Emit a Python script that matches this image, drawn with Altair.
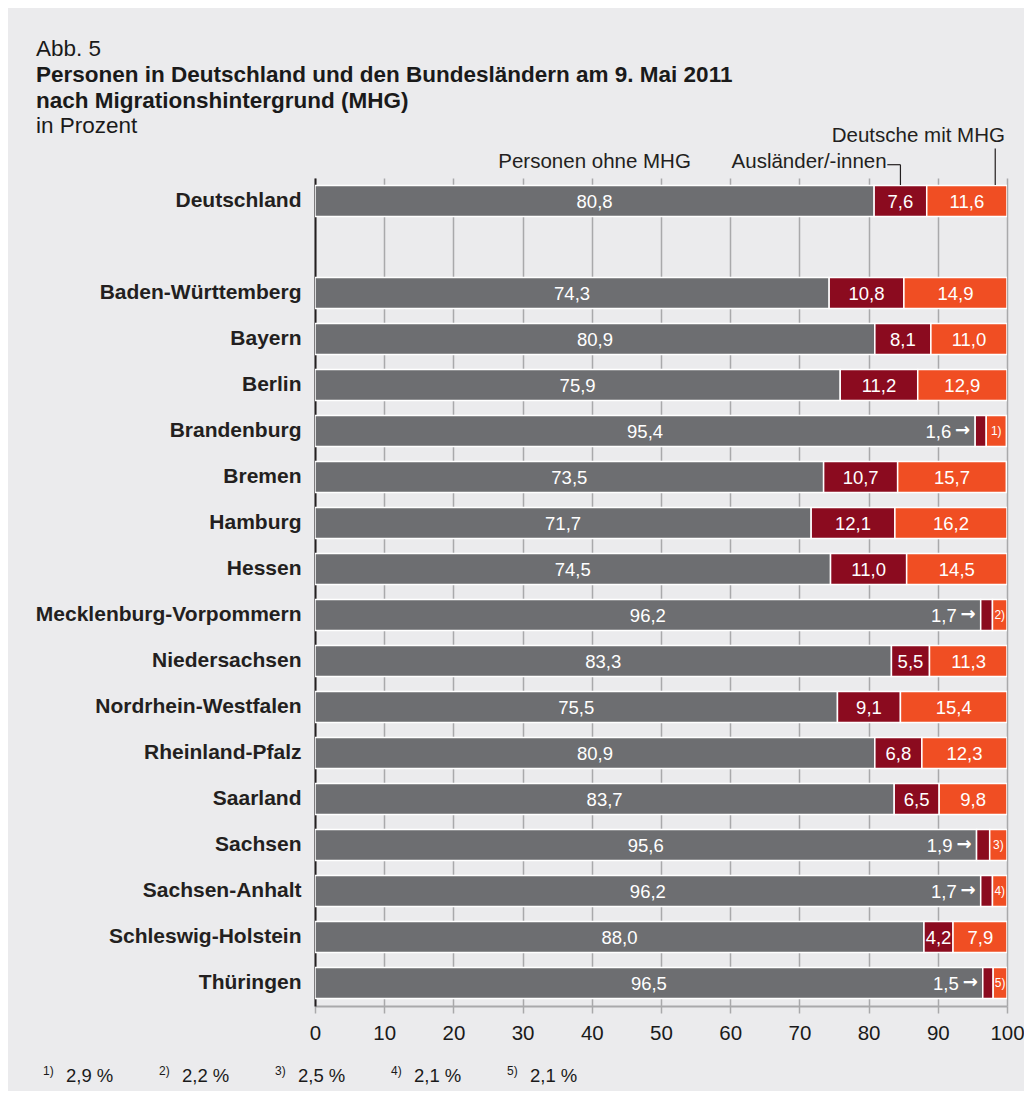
import altair as alt
import pandas as pd

# ---------------- data ----------------
regions = ["Deutschland", "Baden-Württemberg", "Bayern", "Berlin", "Brandenburg",
           "Bremen", "Hamburg", "Hessen", "Mecklenburg-Vorpommern", "Niedersachsen",
           "Nordrhein-Westfalen", "Rheinland-Pfalz", "Saarland", "Sachsen",
           "Sachsen-Anhalt", "Schleswig-Holstein", "Thüringen"]
ohne_mhg = [80.8, 74.3, 80.9, 75.9, 95.4, 73.5, 71.7, 74.5, 96.2, 83.3, 75.5, 80.9, 83.7, 95.6, 96.2, 88.0, 96.5]
auslaender = [7.6, 10.8, 8.1, 11.2, 1.6, 10.7, 12.1, 11.0, 1.7, 5.5, 9.1, 6.8, 6.5, 1.9, 1.7, 4.2, 1.5]
deutsche_mhg = [11.6, 14.9, 11.0, 12.9, 2.9, 15.7, 16.2, 14.5, 2.2, 11.3, 15.4, 12.3, 9.8, 2.5, 2.1, 7.9, 2.1]
categories = ["Personen ohne MHG", "Ausländer/-innen", "Deutsche mit MHG"]
colors = ["#6d6e71", "#8b0b1f", "#f04e23"]
footnote_marks = ["1)", "2)", "3)", "4)", "5)"]
footnote_values = ["2,9 %", "2,2 %", "2,5 %", "2,1 %", "2,1 %"]
x_ticks = list(range(0, 101, 10))
title_lines = ["Abb. 5",
               "Personen in Deutschland und den Bundesländern am 9. Mai 2011",
               "nach Migrationshintergrund (MHG)",
               "in Prozent"]

GAP = "_gap"
y_domain = [regions[0], GAP] + regions[1:]
FONT = "Liberation Sans"
PAD_LEFT = 307          # plot area starts at page x = 8 + PAD_LEFT
TEXT_LEFT = 36 - 8 - PAD_LEFT   # page x 36, relative to plot area


def de(v):
    return f"{v:.1f}".replace(".", ",")


# ---------------- tables built from the arrays ----------------
bar_rows, center_rows, arrow_rows, mark_rows = [], [], [], []
fn_i = 0
for r, a, b, c in zip(regions, ohne_mhg, auslaender, deutsche_mhg):
    starts = [0, a, a + b]
    vals = [a, b, c]
    for k, (cat, s, v) in enumerate(zip(categories, starts, vals)):
        bar_rows.append(dict(region=r, cat=cat, start=s, end=min(s + v, 100), k=k))
    center_rows.append(dict(region=r, x=a / 2, t=de(a)))
    if b >= 3:
        center_rows.append(dict(region=r, x=a + b / 2, t=de(b)))
    else:
        arrow_rows.append(dict(region=r, x=a, t=de(b), arr="→"))
    if c >= 5:
        center_rows.append(dict(region=r, x=a + b + c / 2, t=de(c)))
    else:
        mark_rows.append(dict(region=r, x=a + b + min(c, 100 - a - b) / 2, t=footnote_marks[fn_i]))
        fn_i += 1

bars_df = pd.DataFrame(bar_rows)
center_df = pd.DataFrame(center_rows)
arrow_df = pd.DataFrame(arrow_rows)
mark_df = pd.DataFrame(mark_rows)

y_scale = alt.Scale(domain=y_domain, paddingInner=0.33, paddingOuter=0.165)
x_scale = alt.Scale(domain=[0, 100], nice=False)


def xq(field):
    return alt.X(field, scale=x_scale, title=None)


def yn():
    return alt.Y("region:N", scale=y_scale, title=None)


bars = alt.Chart(bars_df).mark_bar(stroke="white", strokeWidth=1.5, clip=True).encode(
    x=alt.X("start:Q", scale=x_scale, title=None,
            axis=alt.Axis(values=x_ticks, grid=True, gridColor="#a9a9ab", gridWidth=1.5,
                          tickColor="#a9a9ab", tickWidth=1.5, tickSize=7,
                          domainColor="#a9a9ab", domainWidth=2,
                          labelFontSize=20.5, labelColor="#1a1a1a", labelFont=FONT,
                          labelPadding=10, labelFlush=False)),
    x2="end:Q",
    y=alt.Y("region:N", scale=y_scale, title=None,
            axis=alt.Axis(labelExpr="datum.value == '_gap' ? '' : datum.value",
                          ticks=False, grid=False, domainColor="#231f20", domainWidth=2,
                          labelFontSize=21, labelFontWeight="bold", labelColor="#231f20",
                          labelFont=FONT, labelPadding=14, labelLimit=400)),
    color=alt.Color("cat:N", scale=alt.Scale(domain=categories, range=colors), legend=None),
    order=alt.Order("k:Q"),
)

center_txt = alt.Chart(center_df).mark_text(
    color="white", fontSize=18.5, font=FONT, align="center", baseline="middle", dy=1
).encode(x=xq("x:Q"), y=yn(), text="t:N")

arrow_num = alt.Chart(arrow_df).mark_text(
    color="white", fontSize=18.5, font=FONT, align="right", baseline="middle", dx=-24, dy=1
).encode(x=xq("x:Q"), y=yn(), text="t:N")

arrow_sym = alt.Chart(arrow_df).mark_text(
    color="white", fontSize=18, font="DejaVu Sans", fontWeight="bold",
    align="right", baseline="middle", dx=-5, dy=0
).encode(x=xq("x:Q"), y=yn(), text="arr:N")

mark_txt = alt.Chart(mark_df).mark_text(
    color="white", fontSize=12, font=FONT, align="center", baseline="middle"
).encode(x=xq("x:Q"), y=yn(), text="t:N")

# ---------------- header labels for the segments ----------------
de_a, de_b = ohne_mhg[0], auslaender[0]
hdr_df = pd.DataFrame({"t": categories,
                       "x": [de_a / 2, de_a + de_b / 2 - 2.0, 99.7]})
hdr_personen = alt.Chart(hdr_df.iloc[[0]]).mark_text(
    fontSize=20.5, font=FONT, color="#231f20", align="center", baseline="alphabetic"
).encode(x=xq("x:Q"), y=alt.value(-10.5), text="t:N")
hdr_ausl = alt.Chart(hdr_df.iloc[[1]]).mark_text(
    fontSize=20.5, font=FONT, color="#231f20", align="right", baseline="alphabetic"
).encode(x=xq("x:Q"), y=alt.value(-10.5), text="t:N")
hdr_deut = alt.Chart(hdr_df.iloc[[2]]).mark_text(
    fontSize=20.5, font=FONT, color="#231f20", align="right", baseline="alphabetic"
).encode(x=xq("x:Q"), y=alt.value(-36), text="t:N")

bracket_h = alt.Chart(pd.DataFrame({"x": [de_a + de_b / 2 - 1.9], "x2": [de_a + de_b / 2]})).mark_rule(
    color="#231f20", strokeWidth=1.2
).encode(x=xq("x:Q"), x2="x2:Q", y=alt.value(-13.3))
bracket_v = alt.Chart(pd.DataFrame({"x": [de_a + de_b / 2]})).mark_rule(
    color="#231f20", strokeWidth=1.2
).encode(x=xq("x:Q"), y=alt.value(-13.3), y2=alt.value(7))
deut_v = alt.Chart(pd.DataFrame({"x": [98.3]})).mark_rule(
    color="#231f20", strokeWidth=1.2
).encode(x=xq("x:Q"), y=alt.value(-29.5), y2=alt.value(7))

# ---------------- title block ----------------
title_layers = []
title_y = [-122, -96, -70, -45]
title_w = ["normal", "bold", "bold", "normal"]
for line, yy, w in zip(title_lines, title_y, title_w):
    title_layers.append(
        alt.Chart(pd.DataFrame({"t": [line]})).mark_text(
            fontSize=22.5, font=FONT, fontWeight=w, color="#1a1a1a",
            align="left", baseline="alphabetic"
        ).encode(x=alt.value(TEXT_LEFT), y=alt.value(yy), text="t:N")
    )

# ---------------- footnotes ----------------
foot_layers = []
for i, (m, v) in enumerate(zip(footnote_marks, footnote_values)):
    x0 = TEXT_LEFT + 30 + i * 116
    foot_layers.append(
        alt.Chart(pd.DataFrame({"t": [m]})).mark_text(
            fontSize=12, font=FONT, color="#1a1a1a", align="left", baseline="alphabetic"
        ).encode(x=alt.value(x0 - 23), y=alt.value(897), text="t:N"))
    foot_layers.append(
        alt.Chart(pd.DataFrame({"t": [v]})).mark_text(
            fontSize=18.5, font=FONT, color="#1a1a1a", align="left", baseline="alphabetic"
        ).encode(x=alt.value(x0), y=alt.value(904), text="t:N"))

chart = alt.layer(
    bars, center_txt, arrow_num, arrow_sym, mark_txt,
    hdr_personen, hdr_ausl, hdr_deut, bracket_h, bracket_v, deut_v,
    *title_layers, *foot_layers
).properties(
    width=692, height=828,
    autosize=alt.AutoSizeParams(type="none"),
    padding={"left": PAD_LEFT, "top": 170, "right": 17, "bottom": 85},
    background="#ebebed",
).configure_view(stroke=None)

chart.save("out.html", embed_options={"renderer": "svg", "actions": False})
